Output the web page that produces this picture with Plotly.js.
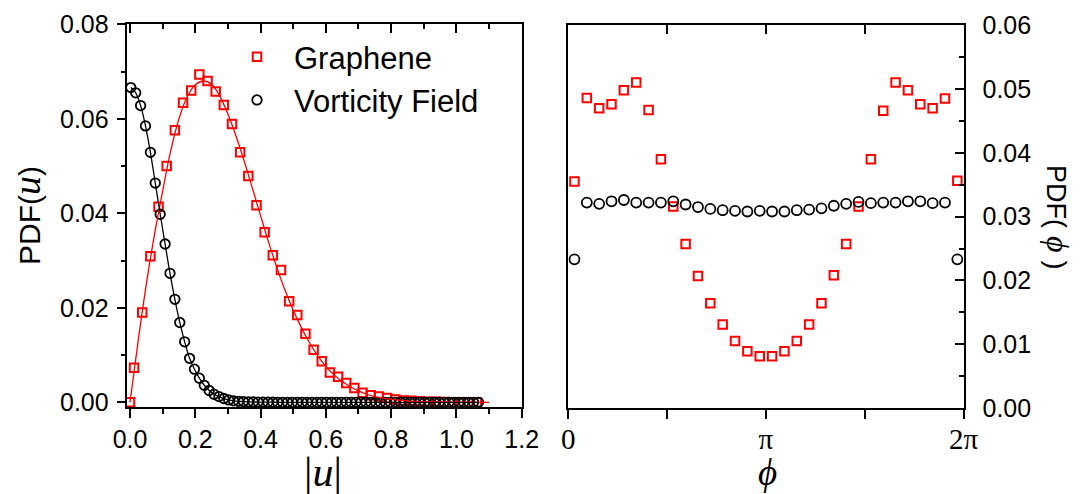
<!DOCTYPE html>
<html>
<head>
<meta charset="utf-8">
<script src="https://cdn.plot.ly/plotly-3.0.1.min.js"></script>
<style>html,body{margin:0;padding:0;background:#fff;}#chart{width:1086px;height:494px;}</style>
</head>
<body>
<div id="chart"></div>
<script>
// ---------- Left panel: PDF(|u|) ----------
const grapheneU = [0, 0.0125, 0.0375, 0.0625, 0.0875, 0.1125, 0.1375, 0.1625, 0.1875, 0.2125, 0.2375, 0.2625, 0.2875, 0.3125, 0.3375, 0.3625, 0.3875, 0.4125, 0.4375, 0.4625, 0.4875, 0.5125, 0.5375, 0.5625, 0.5875, 0.6125, 0.6375, 0.6625, 0.6875, 0.7125, 0.7375, 0.7625, 0.7875, 0.8125, 0.8375, 0.8625, 0.8875, 0.9125, 0.9375, 0.9625, 0.9875, 1.0125, 1.0375, 1.0625];
const graphenePDF = [0, 0.0073, 0.0190, 0.0309, 0.0414, 0.0500, 0.0576, 0.0634, 0.0660, 0.0694, 0.0680, 0.0658, 0.0629, 0.0589, 0.0529, 0.0479, 0.0417, 0.0360, 0.0311, 0.0280, 0.0214, 0.0185, 0.0145, 0.0111, 0.0087, 0.0063, 0.0054, 0.0041, 0.0030, 0.0020, 0.0015, 0.0012, 0.0009, 0.0006, 0.0004, 0.0003, 0.0002, 0.0001, 0.0001, 0.00005, 0.00003, 0.00002, 0.00001, 0];

const grapheneFitU = [0, 0.025, 0.05, 0.075, 0.1, 0.125, 0.15, 0.175, 0.2, 0.225, 0.25, 0.275, 0.3, 0.325, 0.35, 0.375, 0.4, 0.425, 0.45, 0.475, 0.5, 0.525, 0.55, 0.575, 0.6, 0.625, 0.65, 0.675, 0.7, 0.725, 0.75, 0.775, 0.8, 0.85, 0.9, 0.95, 1.0, 1.05, 1.1];
const grapheneFitPDF = [0, 0.0130, 0.0250, 0.0355, 0.0447, 0.0533, 0.0600, 0.0646, 0.0672, 0.0680, 0.0673, 0.0648, 0.0610, 0.0563, 0.0510, 0.0453, 0.0395, 0.0338, 0.0285, 0.0237, 0.0195, 0.0158, 0.0126, 0.0099, 0.0076, 0.0058, 0.0044, 0.0033, 0.0024, 0.0017, 0.0012, 0.0009, 0.0006, 0.0003, 0.00015, 0.0001, 0.00005, 0.00002, 0];

const vortU = [0.0025, 0.0175, 0.0325, 0.0475, 0.0625, 0.0775, 0.0925, 0.1075, 0.1225, 0.1375, 0.1525, 0.1675, 0.1825, 0.1975, 0.2125, 0.2275, 0.2425, 0.2575, 0.2725, 0.2875, 0.3025, 0.3175, 0.3325, 0.3475, 0.3625, 0.3775, 0.3925, 0.4075, 0.4225, 0.4375, 0.4525, 0.4675, 0.4825, 0.4975, 0.5125, 0.5275, 0.5425, 0.5575, 0.5725, 0.5875, 0.6025, 0.6175, 0.6325, 0.6475, 0.6625, 0.6775, 0.6925, 0.7075, 0.7225, 0.7375, 0.7525, 0.7675, 0.7825, 0.7975, 0.8125, 0.8275, 0.8425, 0.8575, 0.8725, 0.8875, 0.9025, 0.9175, 0.9325, 0.9475, 0.9625, 0.9775, 0.9925, 1.0075, 1.0225, 1.0375, 1.0525, 1.0675];
const vortPDF = [0.0666, 0.0655, 0.0628, 0.0585, 0.0529, 0.0464, 0.0398, 0.0335, 0.0273, 0.0218, 0.0169, 0.0128, 0.0093, 0.0070, 0.0051, 0.0036, 0.0025, 0.0017, 0.0012, 0.0008, 0.0005, 0.0003, 0.0002, 0.00015, 0.0001, 0.00007, 0.00005, 0.00003, 0.00002, 0.00001, 0, 0, 0, 0, 0, 0, 0, 0, 0, 0, 0, 0, 0, 0, 0, 0, 0, 0, 0, 0, 0, 0, 0, 0, 0, 0, 0, 0, 0, 0, 0, 0, 0, 0, 0, 0, 0, 0, 0, 0, 0, 0];

// ---------- Right panel: PDF(phi) ----------
const phi = [0.09817, 0.29452, 0.49087, 0.68722, 0.88357, 1.07992, 1.27627, 1.47262, 1.66897, 1.86532, 2.06167, 2.25802, 2.45437, 2.65072, 2.84707, 3.04342, 3.23977, 3.43612, 3.63247, 3.82882, 4.02517, 4.22152, 4.41787, 4.61422, 4.81057, 5.00692, 5.20327, 5.39962, 5.59597, 5.79232, 5.98867, 6.18502];
const graphenePhi = [0.0355, 0.0486, 0.0470, 0.0476, 0.0498, 0.0510, 0.0467, 0.0390, 0.0316, 0.0257, 0.0207, 0.0164, 0.0131, 0.0105, 0.0089, 0.0081, 0.0081, 0.0089, 0.0105, 0.0131, 0.0164, 0.0208, 0.0257, 0.0316, 0.0390, 0.0466, 0.0510, 0.0498, 0.0476, 0.0470, 0.0485, 0.0356];
const vortPhi = [0.0233, 0.0322, 0.0320, 0.0324, 0.0326, 0.0322, 0.0322, 0.0322, 0.0324, 0.0319, 0.0315, 0.0312, 0.0310, 0.0309, 0.0308, 0.0309, 0.0308, 0.0308, 0.0310, 0.0311, 0.0313, 0.0317, 0.0320, 0.0323, 0.0321, 0.0322, 0.0322, 0.0324, 0.0324, 0.0321, 0.0322, 0.0233];

const phiTickVals = [0, Math.PI / 2, Math.PI, 3 * Math.PI / 2, 2 * Math.PI];
const phiTickText = ['0', '', 'π', '', '2π'];

const seriesNames = ['Graphene', 'Vorticity Field'];

// ---------- styling helpers ----------
const W = 1086, H = 494;
const px = v => v / W;
const py = v => 1 - v / H;
const RED = '#ff0000', BLACK = '#000000';
const SANS = 'Liberation Sans, Arial, sans-serif';
const SERIF = 'Liberation Serif, Times New Roman, serif';

const traces = [
  {x: grapheneU, y: graphenePDF, type: 'scatter', mode: 'markers', name: seriesNames[0],
   marker: {symbol: 'square-open', size: 8.5, color: RED, line: {width: 2, color: RED}}, xaxis: 'x', yaxis: 'y'},
  {x: vortU, y: vortPDF, type: 'scatter', mode: 'markers', name: seriesNames[1],
   marker: {symbol: 'circle-open', size: 9.5, color: BLACK, line: {width: 1.8, color: BLACK}}, xaxis: 'x', yaxis: 'y'},
  {x: grapheneFitU, y: grapheneFitPDF, type: 'scatter', mode: 'lines', showlegend: false,
   line: {color: RED, width: 1.3, shape: 'spline'}, xaxis: 'x', yaxis: 'y', hoverinfo: 'skip'},
  {x: vortU, y: vortPDF, type: 'scatter', mode: 'lines', showlegend: false,
   line: {color: BLACK, width: 1.3, shape: 'spline'}, xaxis: 'x', yaxis: 'y', hoverinfo: 'skip'},
  {x: phi, y: graphenePhi, type: 'scatter', mode: 'markers', showlegend: false,
   marker: {symbol: 'square-open', size: 8.5, color: RED, line: {width: 2, color: RED}}, xaxis: 'x2', yaxis: 'y2'},
  {x: phi, y: vortPhi, type: 'scatter', mode: 'markers', showlegend: false,
   marker: {symbol: 'circle-open', size: 10, color: BLACK, line: {width: 1.8, color: BLACK}}, xaxis: 'x2', yaxis: 'y2'},
  // empty traces so the top tick axes get drawn
  {x: [], y: [], type: 'scatter', mode: 'markers', showlegend: false, xaxis: 'x3', yaxis: 'y'},
  {x: [], y: [], type: 'scatter', mode: 'markers', showlegend: false, xaxis: 'x4', yaxis: 'y2'}
];

const axLine = {showline: true, linecolor: BLACK, linewidth: 2, showgrid: false, zeroline: false, tickcolor: BLACK, tickwidth: 2};

const leftX = [px(126.7), px(521.7)];
const leftY = [py(407.3), py(24.3)];
const rightX = [px(568.3), px(963.5)];
const rightY = [py(408), py(25.2)];

const layout = {
  width: W, height: H,
  margin: {l: 0, r: 0, t: 0, b: 0},
  paper_bgcolor: '#fff', plot_bgcolor: '#fff',
  showlegend: true,
  xaxis: Object.assign({}, axLine, {
    domain: leftX, anchor: 'y', range: [-0.0101, 1.2], mirror: true,
    ticks: 'outside', ticklen: 9, tick0: 0, dtick: 0.2, tickformat: '.1f',
    minor: {ticks: 'outside', ticklen: 5, dtick: 0.1, tick0: 0, tickcolor: BLACK, tickwidth: 2},
    tickfont: {family: SANS, size: 25, color: BLACK}, ticklabelstandoff: 0
  }),
  xaxis3: {
    domain: leftX, anchor: 'y', overlaying: 'x', side: 'top', range: [-0.0101, 1.2],
    showline: false, showgrid: false, zeroline: false, showticklabels: false,
    ticks: 'inside', ticklen: 9, tickwidth: 2, tickcolor: BLACK, tick0: 0, dtick: 0.2,
    minor: {ticks: 'inside', ticklen: 5, dtick: 0.1, tick0: 0, tickcolor: BLACK, tickwidth: 2}
  },
  yaxis: Object.assign({}, axLine, {
    domain: leftY, anchor: 'x', range: [-0.00106, 0.08], mirror: true,
    ticks: 'outside', ticklen: 8, tick0: 0, dtick: 0.02, tickformat: '.2f',
    minor: {ticks: 'outside', ticklen: 4, dtick: 0.01, tick0: 0, tickcolor: BLACK, tickwidth: 2},
    tickfont: {family: SANS, size: 25, color: BLACK}, ticklabelstandoff: 3
  }),
  xaxis2: Object.assign({}, axLine, {
    domain: rightX, anchor: 'y2', range: [0, 2 * Math.PI], mirror: true,
    ticks: 'outside', ticklen: 9, tickmode: 'array', tickvals: phiTickVals, ticktext: phiTickText,
    tickfont: {family: SERIF, size: 29, color: BLACK}, ticklabelstandoff: -5
  }),
  xaxis4: {
    domain: rightX, anchor: 'y2', overlaying: 'x2', side: 'top', range: [0, 2 * Math.PI],
    showline: false, showgrid: false, zeroline: false, showticklabels: false,
    ticks: 'inside', ticklen: 9, tickwidth: 2, tickcolor: BLACK, tickmode: 'array', tickvals: phiTickVals
  },
  yaxis2: Object.assign({}, axLine, {
    domain: rightY, anchor: 'x2', side: 'right', range: [0, 0.06], mirror: true,
    ticks: 'inside', ticklen: 9, tick0: 0, dtick: 0.01, tickformat: '.2f',
    minor: {ticks: 'inside', ticklen: 5, dtick: 0.005, tick0: 0, tickcolor: BLACK, tickwidth: 2},
    tickfont: {family: SANS, size: 25, color: BLACK}, ticklabelstandoff: 12
  }),
  legend: {
    x: px(220), y: py(30), xanchor: 'left', yanchor: 'top',
    bgcolor: 'rgba(0,0,0,0)', borderwidth: 0, itemwidth: 64,
    font: {family: SANS, size: 31, color: BLACK}, tracegroupgap: 0
  },
  annotations: [
    {xref: 'paper', yref: 'paper', x: px(323), y: py(472), xanchor: 'center', yanchor: 'middle', showarrow: false,
     text: '|<i>u</i>|', font: {family: SERIF, size: 42, color: BLACK}},
    {xref: 'paper', yref: 'paper', x: px(27), y: py(216), xanchor: 'center', yanchor: 'middle', showarrow: false,
     textangle: -90, text: "PDF(<span style='font-family:Liberation Serif;font-size:38px'><i>u</i></span>)",
     font: {family: SANS, size: 30, color: BLACK}},
    {xref: 'paper', yref: 'paper', x: px(767), y: 0, xanchor: 'center', yanchor: 'bottom', showarrow: false,
     borderpad: 0, text: '<i>ϕ</i>', font: {family: SERIF, size: 37, color: BLACK}},
    {xref: 'paper', yref: 'paper', x: px(1058), y: py(217), xanchor: 'center', yanchor: 'middle', showarrow: false,
     textangle: 90, text: "PDF(<span style='font-family:Liberation Serif;font-size:32px'><i> ϕ </i></span>)",
     font: {family: SANS, size: 27, color: BLACK}}
  ]
};

Plotly.newPlot('chart', traces, layout, {staticPlot: true, displayModeBar: false});
</script>
</body>
</html>
